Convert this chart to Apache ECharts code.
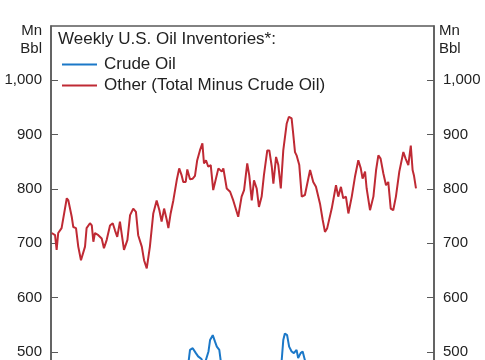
<!DOCTYPE html>
<html><head><meta charset="utf-8">
<script src="https://cdn.jsdelivr.net/npm/echarts@6/dist/echarts.min.js"></script>
<style>html,body{margin:0;padding:0;background:#fff}#c{width:485px;height:360px}</style>
</head><body><div id="c"></div>
<script>
// Decimal-year x positions and values (Mn Bbl)
const otherYears = [2010.03,2010.18,2010.25,2010.32,2010.47,2010.70,2010.77,2010.92,2010.99,2011.11,2011.21,2011.33,2011.51,2011.58,2011.73,2011.81,2011.88,2011.95,2012.10,2012.25,2012.35,2012.47,2012.62,2012.74,2012.84,2012.94,2013.06,2013.24,2013.39,2013.51,2013.65,2013.77,2013.87,2014.03,2014.13,2014.25,2014.39,2014.54,2014.69,2014.81,2014.91,2015.02,2015.14,2015.21,2015.31,2015.43,2015.58,2015.69,2015.80,2015.87,2015.98,2016.05,2016.17,2016.29,2016.39,2016.49,2016.61,2016.72,2016.79,2016.88,2016.98,2017.09,2017.20,2017.28,2017.43,2017.58,2017.65,2017.80,2017.95,2018.09,2018.31,2018.46,2018.57,2018.71,2018.80,2018.91,2019.01,2019.13,2019.23,2019.35,2019.45,2019.60,2019.69,2019.80,2019.87,2019.99,2020.09,2020.20,2020.31,2020.46,2020.56,2020.68,2020.75,2020.83,2020.90,2021.02,2021.13,2021.27,2021.35,2021.50,2021.64,2021.76,2021.94,2022.06,2022.16,2022.26,2022.46,2022.65,2022.75,2022.87,2022.97,2023.09,2023.20,2023.35,2023.49,2023.64,2023.75,2023.83,2023.94,2024.01,2024.16,2024.31,2024.43,2024.53,2024.63,2024.75,2024.87,2024.97,2025.08,2025.19,2025.31,2025.46,2025.64,2025.74,2025.86,2025.97,2026.05,2026.11,2026.20];
const otherValues = [719,715,688,719,728,783,779,749,730,728,694,669,694,728,737,733,703,719,715,709,691,706,733,737,724,712,740,688,706,752,764,758,715,694,669,654,694,755,779,761,740,764,743,728,755,779,816,838,825,813,813,836,818,819,824,853,871,884,847,853,841,844,798,801,838,832,838,801,795,779,749,786,798,847,825,779,816,801,767,786,825,871,871,841,810,859,844,801,871,920,933,930,902,868,862,844,786,789,789,835,813,804,773,743,721,728,764,807,786,804,783,786,755,786,822,853,838,819,832,801,761,786,835,862,856,829,807,813,764,761,786,832,868,856,844,880,835,825,801];
const crudeYears = [2010.03,2010.5,2011.0,2011.5,2012.4,2013.0,2013.4,2014.0,2014.4,2015.0,2015.3,2015.6,2015.9,2016.10,2016.17,2016.29,2016.43,2016.53,2016.68,2016.80,2016.99,2017.06,2017.18,2017.28,2017.36,2017.47,2017.53,2017.7,2018.0,2018.5,2019.0,2019.5,2020.0,2020.24,2020.31,2020.38,2020.48,2020.57,2020.68,2020.78,2020.90,2020.97,2021.08,2021.17,2021.27,2021.5,2022.0,2022.5,2023.0,2023.5,2024.0,2024.5,2025.0,2025.5,2026.20];
const crudeValues = [330,360,340,360,385,360,395,355,390,390,470,455,480,480,504,507,498,492,487,475,501,522,531,519,510,504,485,460,420,410,440,465,430,485,522,534,531,510,501,498,504,489,498,501,485,450,420,425,470,455,430,450,415,430,420];
const yTicks = [500,600,700,800,900,1000];

const pair = (xs, vs) => xs.map((x, i) => [x, vs[i]]);
const chart = echarts.init(document.getElementById('c'), null, {renderer: 'canvas'});
const font = 'Liberation Sans, Arial, sans-serif';
const yAxisCommon = {
  type: 'value', min: 300, max: 1100, interval: 100,
  axisLine: {show: true, lineStyle: {color: '#5a5a5a', width: 1.5}},
  axisTick: {show: true, inside: true, length: 7, lineStyle: {color: '#5a5a5a', width: 1}, customValues: yTicks},
  axisLabel: {color: '#222', fontSize: 15, fontFamily: font, margin: 9, customValues: yTicks,
    formatter: v => v.toLocaleString('en-US')},
  splitLine: {show: false}
};
chart.setOption({
  animation: false,
  grid: {left: 51, right: 51, top: 26, height: 434.7, outerBoundsMode: 'none', containLabel: false,
    show: true, borderColor: '#5a5a5a', borderWidth: 1.5, backgroundColor: 'transparent'},
  title: {text: 'Weekly U.S. Oil Inventories*:', left: 53, top: 26,
    textStyle: {fontSize: 17, fontWeight: 'normal', color: '#222', fontFamily: font}},
  legend: {orient: 'vertical', left: 57, top: 51, itemWidth: 35, itemHeight: 2, itemGap: 4, icon: 'rect',
    textStyle: {fontSize: 17, color: '#222', fontFamily: font, padding: [0, 0, 0, 2]},
    data: ['Crude Oil', 'Other (Total Minus Crude Oil)']},
  graphic: [
    {type: 'text', right: 443, top: 23, style: {text: 'Mn', fontSize: 15, fontFamily: font, fill: '#222', textAlign: 'right'}},
    {type: 'text', right: 443, top: 41, style: {text: 'Bbl', fontSize: 15, fontFamily: font, fill: '#222', textAlign: 'right'}},
    {type: 'text', left: 439, top: 23, style: {text: 'Mn', fontSize: 15, fontFamily: font, fill: '#222'}},
    {type: 'text', left: 439, top: 41, style: {text: 'Bbl', fontSize: 15, fontFamily: font, fill: '#222'}}
  ],
  xAxis: {type: 'value', min: 2010, max: 2027, show: false},
  yAxis: [
    Object.assign({}, yAxisCommon, {position: 'left'}),
    Object.assign({}, yAxisCommon, {position: 'right'})
  ],
  series: [
    {name: 'Crude Oil', type: 'line', data: pair(crudeYears, crudeValues), showSymbol: false, symbol: 'none',
      lineStyle: {color: '#1b78c8', width: 2}, itemStyle: {color: '#1b78c8'}},
    {name: 'Other (Total Minus Crude Oil)', type: 'line', data: pair(otherYears, otherValues), showSymbol: false, symbol: 'none',
      lineStyle: {color: '#bf2a34', width: 2}, itemStyle: {color: '#bf2a34'}}
  ]
});
</script></body></html>
